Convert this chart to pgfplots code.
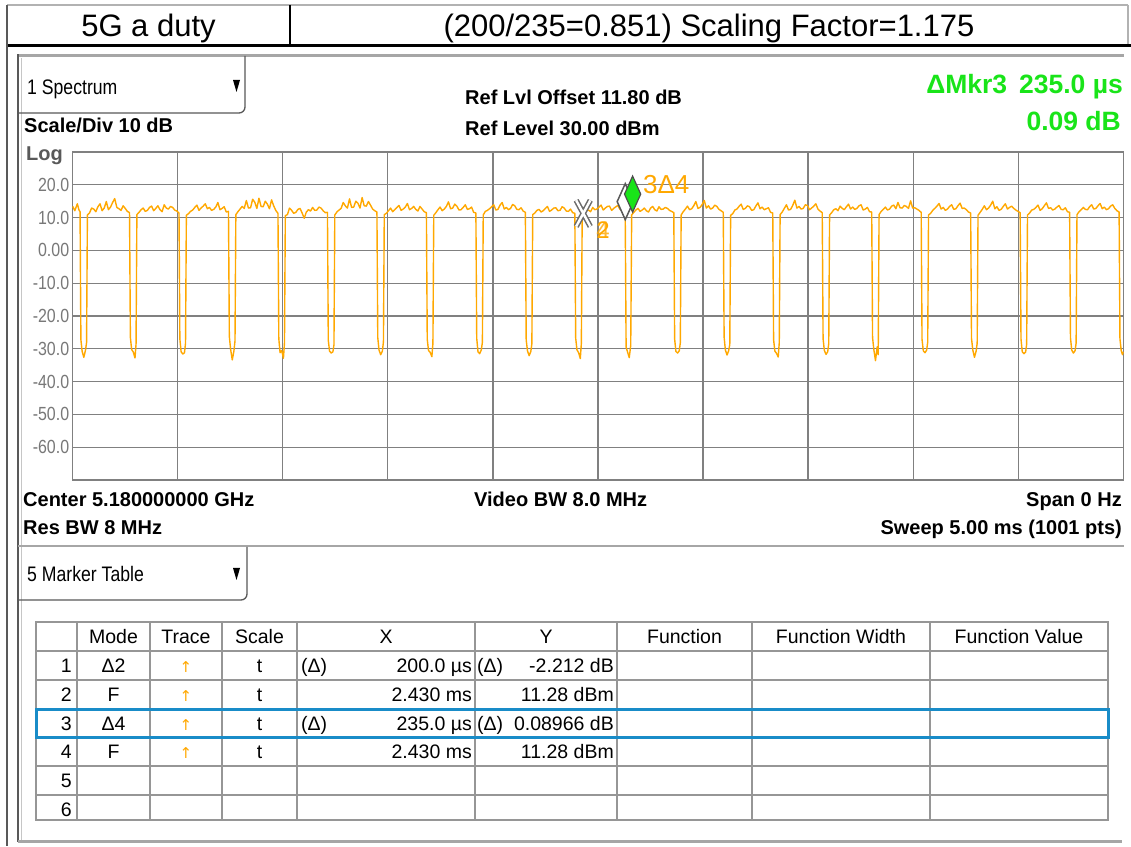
\documentclass[border=0pt]{standalone}
\usepackage{pgfplots}
\pgfplotsset{compat=1.18}
\usepackage{fontspec}
\setmainfont{Liberation Sans}
\newfontfamily\nar{Liberation Sans}[FakeStretch=0.84]
\newfontfamily\dejavu{DejaVu Sans}
\newcommand{\fs}[1]{\fontsize{#1}{#1}\selectfont}
\definecolor{trace}{RGB}{255,168,0}
\definecolor{mkgreen}{RGB}{25,228,25}
\definecolor{gridgray}{RGB}{128,128,128}
\definecolor{tickgray}{RGB}{120,120,120}
\definecolor{selblue}{RGB}{25,140,200}
\definecolor{tabline}{RGB}{150,150,150}
\begin{document}
\begin{tikzpicture}[x=1pt,y=1pt]
\useasboundingbox (0,0) rectangle (1131,846);
\fill[white] (0,0) rectangle (1131,846);
% ---------- header ----------
\draw[gray!60, line width=1.2pt] (7,841)--(1128,841);
\draw[gray!60, line width=1.2pt] (1128,841)--(1128,800.5);
\draw[black, line width=1.8pt] (290,841)--(290,800.5);
\draw[black, line width=2.6pt] (7,800.5)--(1131,800.5);
\draw[gray!70!black, line width=1.5pt] (7,841)--(7,0);
\node[anchor=base, inner sep=0, font=\fs{31}] at (148.5,809) {5G a duty};
\node[anchor=base, inner sep=0, font=\fs{31}] at (709,809) {(200/235=0.851) Scaling Factor=1.175};
% ---------- panel frame ----------
\draw[gray!70, line width=3pt] (18,790)--(1124,790);
\draw[gray!70!black, line width=1.5pt] (18,791.5)--(18,4);
\draw[gray!45, line width=1pt] (21,788)--(21,6);
\draw[gray!70, line width=3pt] (18,5)--(1122,5);
\draw[gray!70!black, line width=1.3pt, rounded corners=6pt] (245,790)--(245,733)--(18,733);
\node[anchor=base west, inner sep=0, font=\nar\fs{21}] at (27,751) {1 Spectrum};
\fill (233,766)--(240,766)--(236.5,754)--cycle;
\node[anchor=base west, inner sep=0, font=\bfseries\fs{20}] at (24,713) {Scale/Div 10 dB};
\node[anchor=base west, inner sep=0, font=\bfseries\fs{20}] at (465,741) {Ref Lvl Offset 11.80 dB};
\node[anchor=base west, inner sep=0, font=\bfseries\fs{20}] at (465,710) {Ref Level 30.00 dBm};
\node[anchor=base east, inner sep=0, font=\bfseries\fs{26.5}, text=mkgreen] at (1123,752) {ΔMkr3\hspace{0.45em}235.0 µs};
\node[anchor=base east, inner sep=0, font=\bfseries\fs{26.5}, text=mkgreen] at (1121,715) {0.09 dB};
\node[anchor=base west, inner sep=0, font=\bfseries\fs{20}, text=gray!70!black] at (26,685) {Log};
% ---------- axis ----------
\begin{axis}[
  at={(72.7pt,366pt)}, anchor=south west,
  scale only axis, width=1050.5pt, height=328pt,
  xmin=0, xmax=5, ymin=-70, ymax=30,
  xtick={0.5,1,1.5,2,2.5,3,3.5,4,4.5},
  xticklabel style={text opacity=0, opacity=0},
  ytick={-60,-50,-40,-30,-20,-10,0,10,20},
  yticklabels={-60.0,-50.0,-40.0,-30.0,-20.0,-10.0,0.00,10.0,20.0},
  yticklabel style={font=\nar\fs{19}, text=tickgray},
  grid=major, major grid style={draw=gridgray, line width=1.2pt},
  axis line style={draw=gridgray, line width=1.3pt},
  tick style={draw=none},
  clip=false,
]
\addplot[trace, line width=1.4pt, line join=round, mark=none] coordinates {
(0,13.4) (0.010,12.1) (0.022,14.2) (0.030,12.3)
(0.035,11.8) (0.039,-27.2) (0.045,-30.8) (0.053,-32.6) (0.061,-30.4) (0.066,-28.1) (0.070,10.8)
(0.080,11.4) (0.090,12.9) (0.100,12.6) (0.110,11.8) (0.120,13.3) (0.130,14.2) (0.140,12.1) (0.150,12.9) (0.160,14.9) (0.170,12.4) (0.180,13.2) (0.190,14.6) (0.200,15.8) (0.210,13.1) (0.220,12.7) (0.230,12.2) (0.240,13.6) (0.250,12.8) (0.260,11.9)
(0.2705,11.5) (0.2745,-26.5) (0.2805,-30.2) (0.2885,-31.0) (0.2965,-32.8) (0.3015,-28.6) (0.3055,10.9)
(0.3155,11.6) (0.3255,12.4) (0.3355,12.9) (0.3455,11.9) (0.3555,12.2) (0.3655,13.1) (0.3755,13.5) (0.3855,12.1) (0.3955,12.8) (0.4055,13.6) (0.4155,12.4) (0.4255,11.8) (0.4355,13.9) (0.4455,12.9) (0.4555,12.6) (0.4655,13.4) (0.4755,13.1) (0.4855,12.3) (0.4955,12.0)
(0.506,11.4) (0.510,-27.0) (0.516,-30.9) (0.524,-31.6) (0.532,-31.2) (0.537,-28.3) (0.541,10.7)
(0.551,11.2) (0.561,11.9) (0.571,12.3) (0.581,13.1) (0.591,13.8) (0.601,12.2) (0.611,12.9) (0.621,13.5) (0.631,14.2) (0.641,12.7) (0.651,13.1) (0.661,12.2) (0.671,12.5) (0.681,13.2) (0.691,14.6) (0.701,12.4) (0.711,12.8) (0.721,13.3) (0.731,11.7)
(0.7415,11.9) (0.7455,-26.2) (0.7515,-30.1) (0.7595,-33.4) (0.7675,-30.6) (0.7725,-27.6) (0.7765,10.9)
(0.7865,11.8) (0.7965,12.6) (0.8065,13.4) (0.8165,12.8) (0.8265,15.2) (0.8365,12.9) (0.8465,13.0) (0.8565,15.6) (0.8665,14.7) (0.8765,12.8) (0.8865,15.9) (0.8965,13.4) (0.9065,13.3) (0.9165,15.0) (0.9265,14.1) (0.9365,12.7) (0.9465,15.4) (0.9565,13.6) (0.9665,12.2)
(0.977,11.3) (0.981,-26.9) (0.987,-31.2) (0.995,-30.5) (1.003,-32.9) (1.008,-28.2) (1.012,10.6)
(1.022,10.9) (1.032,12.9) (1.042,12.2) (1.052,11.3) (1.062,11.6) (1.072,12.5) (1.082,12.8) (1.092,11.4) (1.102,9.8) (1.112,11.7) (1.122,12.4) (1.132,12.0) (1.142,13.1) (1.152,12.2) (1.162,12.3) (1.172,13.2) (1.182,12.9) (1.192,12.1) (1.202,11.5)
(1.2125,11.6) (1.2165,-27.4) (1.2225,-30.7) (1.2305,-31.3) (1.2385,-30.9) (1.2435,-28.8) (1.2475,10.8)
(1.2575,11.7) (1.2675,12.3) (1.2775,12.8) (1.2875,14.6) (1.2975,13.6) (1.3075,12.9) (1.3175,15.7) (1.3275,13.1) (1.3375,13.2) (1.3475,15.0) (1.3575,14.4) (1.3675,12.9) (1.3775,16.1) (1.3875,13.6) (1.3975,13.5) (1.4075,14.9) (1.4175,13.8) (1.4275,12.6) (1.4375,12.1)
(1.448,11.7) (1.452,-26.6) (1.458,-30.4) (1.466,-31.8) (1.474,-30.7) (1.479,-27.9) (1.483,10.9)
(1.493,11.3) (1.503,12.1) (1.513,12.9) (1.523,11.8) (1.533,12.4) (1.543,13.1) (1.553,13.7) (1.563,12.2) (1.573,12.6) (1.583,13.2) (1.593,14.3) (1.603,12.4) (1.613,12.8) (1.623,13.4) (1.633,12.5) (1.643,12.0) (1.653,13.4) (1.663,12.6) (1.673,11.8)
(1.6835,11.5) (1.6875,-27.1) (1.6935,-30.5) (1.7015,-31.1) (1.7095,-32.4) (1.7145,-28.4) (1.7185,10.7)
(1.7285,11.5) (1.7385,12.4) (1.7485,13.2) (1.7585,12.1) (1.7685,12.6) (1.7785,13.4) (1.7885,14.8) (1.7985,12.7) (1.8085,12.9) (1.8185,14.1) (1.8285,13.5) (1.8385,12.3) (1.8485,12.4) (1.8585,13.1) (1.8685,13.9) (1.8785,12.5) (1.8885,12.7) (1.8985,13.2) (1.9085,11.6)
(1.919,11.4) (1.923,-26.8) (1.929,-30.9) (1.937,-31.5) (1.945,-30.3) (1.950,-28.0) (1.954,10.8)
(1.964,11.9) (1.974,12.2) (1.984,12.7) (1.994,13.3) (2.004,13.9) (2.014,12.3) (2.024,12.5) (2.034,13.8) (2.044,14.6) (2.054,12.6) (2.064,13.1) (2.074,12.4) (2.084,12.8) (2.094,14.0) (2.104,13.6) (2.114,12.5) (2.124,12.4) (2.134,13.0) (2.144,12.0)
(2.1545,11.6) (2.1585,-27.3) (2.1645,-30.6) (2.1725,-32.1) (2.1805,-30.8) (2.1855,-28.5) (2.1895,10.9)
(2.1995,11.4) (2.2095,12.2) (2.2195,12.5) (2.2295,11.7) (2.2395,12.1) (2.2495,12.8) (2.2595,13.4) (2.2695,11.9) (2.2795,12.3) (2.2895,12.9) (2.2995,13.0) (2.3095,12.1) (2.3195,12.2) (2.3295,13.3) (2.3395,12.9) (2.3495,12.0) (2.3595,11.9) (2.3695,12.6) (2.3795,11.5)
(2.390,11.3) (2.394,-26.7) (2.400,-30.3) (2.408,-31.2) (2.416,-33.0) (2.421,-28.3) (2.425,10.9)
(2.435,11.4) (2.445,12.1) (2.455,12.3) (2.465,11.8) (2.475,13.1) (2.485,12.4) (2.495,12.6) (2.505,13.2) (2.515,13.8) (2.525,12.3) (2.535,12.9) (2.545,13.4) (2.555,13.5) (2.565,12.2) (2.575,12.8) (2.585,13.3) (2.595,13.7) (2.605,12.5) (2.615,12.2)
(2.6255,11.3) (2.630,9.1) (2.634,-29.5) (2.641,-31.0) (2.649,-32.7) (2.656,-28.9) (2.6605,10.8)
(2.6705,11.6) (2.6805,12.3) (2.6905,12.8) (2.7005,11.9) (2.7105,12.3) (2.7205,12.9) (2.7305,12.1) (2.7405,11.7) (2.7505,12.9) (2.7605,13.4) (2.7705,12.4) (2.7805,12.0) (2.7905,13.3) (2.8005,12.5) (2.8105,12.6) (2.8205,13.1) (2.8305,12.8) (2.8405,12.2) (2.8505,11.9)
(2.861,11.5) (2.865,-27.0) (2.871,-30.8) (2.879,-31.3) (2.887,-30.6) (2.892,-28.2) (2.896,10.8)
(2.906,11.8) (2.916,12.6) (2.926,13.5) (2.936,12.4) (2.946,12.7) (2.956,13.6) (2.966,14.9) (2.976,12.8) (2.986,13.1) (2.996,14.0) (3.006,15.2) (3.016,12.9) (3.026,13.6) (3.036,12.6) (3.046,12.9) (3.056,13.8) (3.066,13.4) (3.076,12.5) (3.086,12.1)
(3.0965,11.6) (3.1005,-26.4) (3.1065,-30.4) (3.1145,-31.9) (3.1225,-30.5) (3.1275,-28.7) (3.1315,10.7)
(3.1415,11.2) (3.1515,12.3) (3.1615,12.6) (3.1715,13.4) (3.1815,14.1) (3.1915,12.5) (3.2015,12.8) (3.2115,13.6) (3.2215,13.3) (3.2315,12.2) (3.2415,12.4) (3.2515,13.5) (3.2615,14.5) (3.2715,12.7) (3.2815,13.2) (3.2915,12.4) (3.3015,12.7) (3.3115,13.0) (3.3215,11.6)
(3.332,11.4) (3.336,-27.2) (3.342,-30.7) (3.350,-31.4) (3.358,-32.5) (3.363,-28.1) (3.367,10.9)
(3.377,11.7) (3.387,12.8) (3.397,13.9) (3.407,12.3) (3.417,12.5) (3.427,13.7) (3.437,15.3) (3.447,12.9) (3.457,13.4) (3.467,12.6) (3.477,12.8) (3.487,13.9) (3.497,13.7) (3.507,12.4) (3.517,12.9) (3.527,13.5) (3.537,14.2) (3.547,12.6) (3.557,12.0)
(3.5675,11.5) (3.5715,-26.9) (3.5775,-30.5) (3.5855,-31.7) (3.5935,-30.9) (3.5985,-28.4) (3.6025,10.8)
(3.6125,11.5) (3.6225,12.4) (3.6325,12.7) (3.6425,12.1) (3.6525,13.5) (3.6625,12.8) (3.6725,12.4) (3.6825,13.3) (3.6925,14.1) (3.7025,12.6) (3.7125,13.2) (3.7225,12.5) (3.7325,12.8) (3.7425,13.6) (3.7525,13.9) (3.7625,12.3) (3.7725,12.6) (3.7825,13.1) (3.7925,11.8)
(3.803,11.7) (3.807,-26.5) (3.813,-30.2) (3.821,-33.6) (3.829,-29.4) (3.834,-31.8) (3.838,10.9)
(3.848,11.9) (3.858,12.5) (3.868,13.2) (3.878,12.3) (3.888,12.6) (3.898,13.5) (3.908,13.8) (3.918,12.7) (3.928,14.6) (3.938,13.0) (3.948,12.9) (3.958,13.7) (3.968,13.4) (3.978,12.8) (3.988,15.1) (3.998,12.9) (4.008,13.0) (4.018,12.6) (4.028,12.2)
(4.0385,11.6) (4.0425,-27.1) (4.0485,-30.6) (4.0565,-31.2) (4.0645,-30.4) (4.0695,-28.0) (4.0735,10.8)
(4.0835,11.3) (4.0935,12.2) (4.1035,12.8) (4.1135,13.5) (4.1235,14.3) (4.1335,12.6) (4.1435,13.1) (4.1535,12.2) (4.1635,12.6) (4.1735,13.4) (4.1835,13.9) (4.1935,12.5) (4.2035,12.7) (4.2135,13.6) (4.2235,14.4) (4.2335,12.8) (4.2435,12.9) (4.2535,12.4) (4.2635,11.7)
(4.274,11.4) (4.278,-26.8) (4.284,-30.3) (4.292,-32.6) (4.300,-30.7) (4.305,-28.3) (4.309,10.7)
(4.319,11.6) (4.329,12.5) (4.339,13.6) (4.349,12.4) (4.359,12.9) (4.369,13.8) (4.379,15.0) (4.389,12.7) (4.399,13.3) (4.409,12.2) (4.419,12.5) (4.429,13.4) (4.439,14.2) (4.449,12.6) (4.459,13.1) (4.469,13.5) (4.479,12.8) (4.489,12.3) (4.499,11.9)
(4.5095,11.5) (4.5135,-27.0) (4.5195,-30.9) (4.5275,-31.5) (4.5355,-31.0) (4.5405,-28.6) (4.5445,10.8)
(4.5545,11.4) (4.5645,12.3) (4.5745,12.5) (4.5845,13.1) (4.5945,13.8) (4.6045,12.2) (4.6145,12.7) (4.6245,13.6) (4.6345,14.5) (4.6445,12.8) (4.6545,13.0) (4.6645,12.3) (4.6745,12.6) (4.6845,13.2) (4.6945,13.7) (4.7045,12.5) (4.7145,12.4) (4.7245,13.0) (4.7345,11.8)
(4.745,11.6) (4.749,-26.6) (4.755,-30.4) (4.763,-31.3) (4.771,-30.6) (4.776,-28.2) (4.780,10.9)
(4.790,11.8) (4.800,12.4) (4.810,13.1) (4.820,12.5) (4.830,12.4) (4.840,13.3) (4.850,13.9) (4.860,12.6) (4.870,12.8) (4.880,13.6) (4.890,14.3) (4.900,12.7) (4.910,13.2) (4.920,12.4) (4.930,12.7) (4.940,13.5) (4.950,13.9) (4.960,12.8) (4.970,12.1)
(4.9805,11.7) (4.9845,-26.9) (4.9905,-30.6) (4.9965,-31.8) (5.000,-30.9)
};
% markers 2 and 4 (X), marker 1 (outlined diamond), marker 3 (active, green)
\addplot[only marks, mark=x, mark size=10pt, mark options={draw=gray!85!black, line width=5.5pt, yscale=1.85}] coordinates {(2.43,11.28)};
\addplot[only marks, mark=x, mark size=10pt, mark options={draw=white, line width=2.4pt, yscale=1.85}] coordinates {(2.43,11.28)};
\addplot[only marks, mark=diamond*, mark size=18pt, mark options={fill=white, draw=gray!70!black, line width=1.5pt, xscale=0.6, yshift=19pt}] coordinates {(2.63,9.07)};
\addplot[only marks, mark=diamond*, mark size=18pt, mark options={fill=mkgreen, draw=gray!60!black, line width=1.2pt, xscale=0.6, yshift=19pt}] coordinates {(2.665,11.37)};
\node[anchor=base west, inner sep=0, font=\fs{26}, text=trace] at (axis cs:2.714,17.4) {3Δ4};
\node[anchor=base west, inner sep=0, font=\fs{24}, text=trace] at (axis cs:2.491,3.7) {2};
\node[anchor=base west, inner sep=0, font=\fs{24}, text=trace, opacity=0.8] at (axis cs:2.491,3.7) {4};
\end{axis}
% ---------- bottom annotations ----------
\node[anchor=base west, inner sep=0, font=\bfseries\fs{20}] at (23,339) {Center 5.180000000 GHz};
\node[anchor=base west, inner sep=0, font=\bfseries\fs{20}] at (474,339) {Video BW 8.0 MHz};
\node[anchor=base east, inner sep=0, font=\bfseries\fs{20}] at (1122,339) {Span 0 Hz};
\node[anchor=base west, inner sep=0, font=\bfseries\fs{20}] at (23,311) {Res BW 8 MHz};
\node[anchor=base east, inner sep=0, font=\bfseries\fs{20}] at (1122,311) {Sweep 5.00 ms (1001 pts)};
\draw[gray!70, line width=2pt] (18,300)--(1124,300);
\draw[gray!70!black, line width=1.3pt, rounded corners=6pt] (247,299)--(247,246)--(18,246);
\node[anchor=base west, inner sep=0, font=\nar\fs{21}] at (27,264) {5 Marker Table};
\fill (233,278)--(240,278)--(236.5,266)--cycle;
% ---------- marker table ----------
\draw[tabline, line width=1.2pt] (36,224) rectangle (1108,26);
\foreach \yy in {195,166,137,109,80,51} {\draw[tabline, line width=1.1pt] (36,\yy)--(1108,\yy);}
\foreach \xx in {77,150,222,297,475,617,752,930} {\draw[tabline, line width=1.1pt] (\xx,224)--(\xx,26);}
\draw[selblue, line width=3pt] (36,137) rectangle (1108,109);
\begin{scope}[every node/.style={inner sep=0, font=\fs{19.5}}]
\node[anchor=base] at (113.5,202.5) {Mode};
\node[anchor=base] at (186,202.5) {Trace};
\node[anchor=base] at (259.5,202.5) {Scale};
\node[anchor=base] at (386,202.5) {X};
\node[anchor=base] at (546,202.5) {Y};
\node[anchor=base] at (684.5,202.5) {Function};
\node[anchor=base] at (841,202.5) {Function Width};
\node[anchor=base] at (1019,202.5) {Function Value};
% row numbers
\node[anchor=base east] at (72,173.5) {1};
\node[anchor=base east] at (72,144.5) {2};
\node[anchor=base east] at (72,115.5) {3};
\node[anchor=base east] at (72,87.5) {4};
\node[anchor=base east] at (72,58.5) {5};
\node[anchor=base east] at (72,30) {6};
% mode
\node[anchor=base] at (113.5,173.5) {Δ2};
\node[anchor=base] at (113.5,144.5) {F};
\node[anchor=base] at (113.5,115.5) {Δ4};
\node[anchor=base] at (113.5,87.5) {F};
% trace arrows
\node[anchor=base, font=\dejavu\fs{15}, text=trace] at (186,174) {↑};
\node[anchor=base, font=\dejavu\fs{15}, text=trace] at (186,145) {↑};
\node[anchor=base, font=\dejavu\fs{15}, text=trace] at (186,116) {↑};
\node[anchor=base, font=\dejavu\fs{15}, text=trace] at (186,88) {↑};
% scale
\node[anchor=base] at (259.5,173.5) {t};
\node[anchor=base] at (259.5,144.5) {t};
\node[anchor=base] at (259.5,115.5) {t};
\node[anchor=base] at (259.5,87.5) {t};
% X
\node[anchor=base west] at (301,173.5) {(Δ)};
\node[anchor=base east] at (472,173.5) {200.0 µs};
\node[anchor=base east] at (472,144.5) {2.430 ms};
\node[anchor=base west] at (301,115.5) {(Δ)};
\node[anchor=base east] at (472,115.5) {235.0 µs};
\node[anchor=base east] at (472,87.5) {2.430 ms};
% Y
\node[anchor=base west] at (477,173.5) {(Δ)};
\node[anchor=base east] at (614,173.5) {-2.212 dB};
\node[anchor=base east] at (614,144.5) {11.28 dBm};
\node[anchor=base west] at (477,115.5) {(Δ)};
\node[anchor=base east] at (614,115.5) {0.08966 dB};
\node[anchor=base east] at (614,87.5) {11.28 dBm};
\end{scope}
\end{tikzpicture}
\end{document}
